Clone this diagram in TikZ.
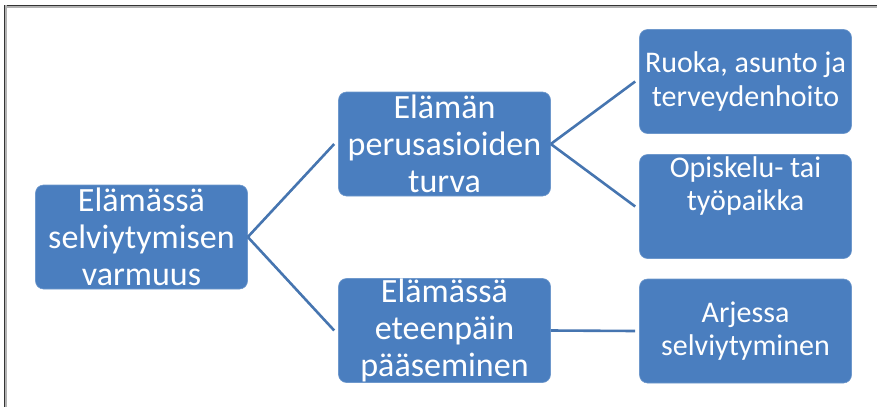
\documentclass[tikz,border=0pt]{standalone}
\usepackage{fontspec}
\setmainfont{Carlito}
\definecolor{boxblue}{HTML}{4A7EBF}
\definecolor{lineblue}{HTML}{4675B0}
\begin{document}
\begin{tikzpicture}[x=1pt,y=-1pt,
  box/.style={draw=boxblue!80!white, line width=0.6pt, fill=boxblue, rounded corners=8pt,
    minimum width=212pt, minimum height=104pt, inner sep=0pt, text=white,
    align=center},
  big/.style={font=\fontsize{34}{37}\selectfont},
  small/.style={font=\fontsize{30}{33.5}\selectfont},
  link/.style={draw=lineblue, line width=2.6pt}]
\useasboundingbox (0,0) rectangle (877,407);
% frame along the top and left edges
\draw[line width=1.2pt, gray!60] (5.5,7) -- (877,7);
\draw[line width=1.5pt, black!80] (4.5,5.5) -- (877,5.5);
\draw[line width=1.2pt, gray!60] (6,5) -- (6,407);
\draw[line width=1.5pt, black!80] (4.5,5) -- (4.5,407);

\node[box,big] (root) at (141.5,237) {Elämässä\\selviytymisen\\varmuus};
\node[box,big] (m1) at (444.5,144) {Elämän\\perusasioiden\\turva};
\node[box,big] (m2) at (444.5,330.5) {Elämässä\\eteenpäin\\pääseminen};
\node[box,small] (r1) at (745.5,81.5) {Ruoka, asunto ja\\terveydenhoito};
\node[box] (r2) at (745.5,206.5) {};
\node[small, text=white, align=center, inner sep=0pt] (r2text) at (745.5,186) {Opiskelu- tai\\työpaikka};
\node[box,small] (r3) at (745.5,331) {Arjessa\\selviytyminen};

\draw[link] (root.east) -- ([xshift=-4pt]m1.west);
\draw[link] (root.east) -- ([xshift=-4pt]m2.west);
\draw[link] (m1.east) -- ([xshift=-4pt]r1.west);
\draw[link] (m1.east) -- ([xshift=-4pt]r2.west);
\draw[link] (m2.east) -- ([xshift=-4pt]r3.west);
\end{tikzpicture}
\end{document}
